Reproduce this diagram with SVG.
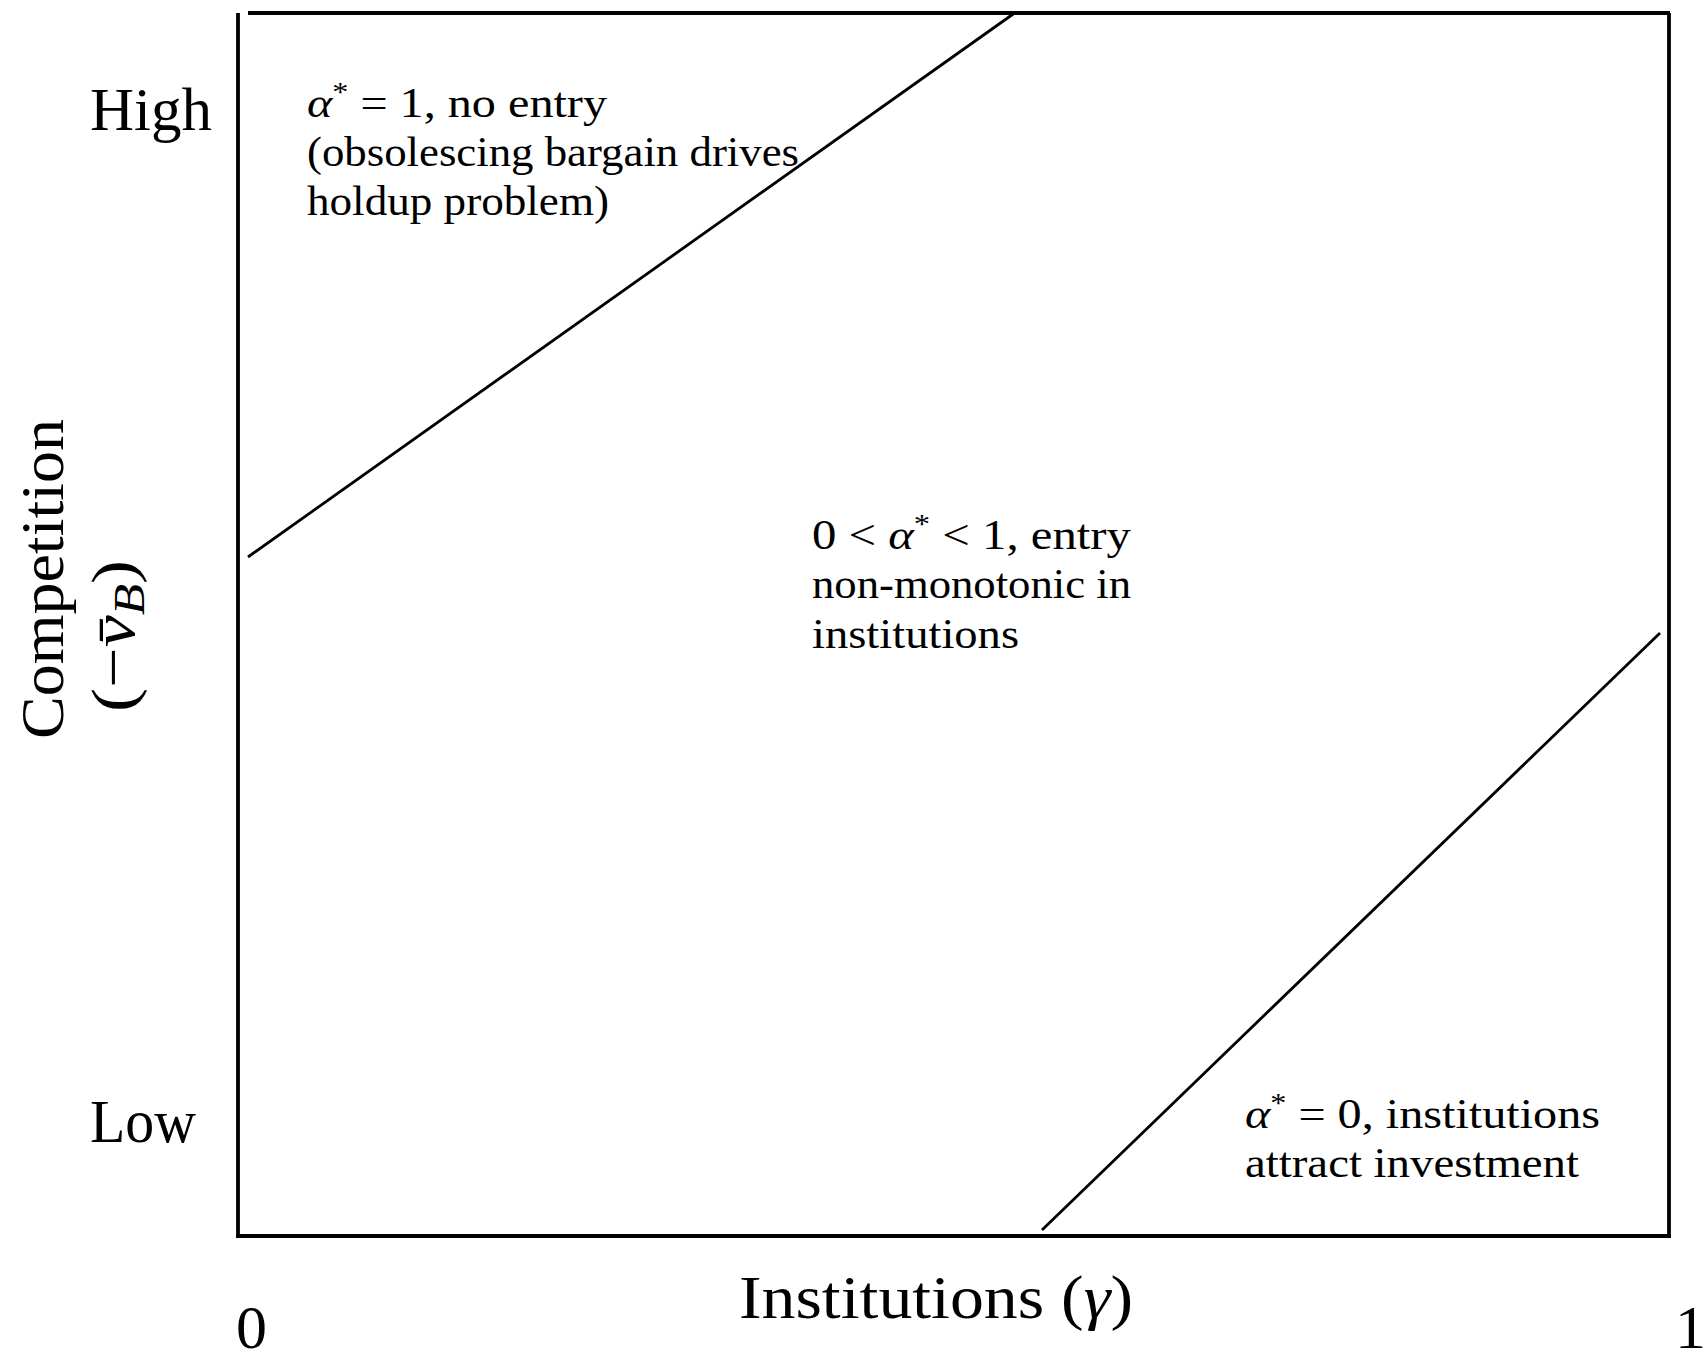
<svg xmlns="http://www.w3.org/2000/svg" width="1705" height="1359" viewBox="0 0 1705 1359">
<style>
.t{font-family:"Liberation Serif","Times New Roman",serif;fill:#000}
.ax{font-size:62px}
.rg{font-size:42px}
.it{font-style:italic}
.frame{fill:none;stroke:#000;stroke-width:3.8}
.bd{fill:none;stroke:#000;stroke-width:2.8}
</style>
<rect width="1705" height="1359" fill="#fff"/>
<g id="frame">
<line class="frame" x1="238" y1="13" x2="238" y2="1237"/>
<line class="frame" x1="248" y1="13" x2="1670" y2="13"/>
<line class="frame" x1="1669" y1="13" x2="1669" y2="1236"/>
<line class="frame" x1="236" y1="1236" x2="1671" y2="1236"/>
</g>
<g id="connectors">
<line class="bd" x1="248" y1="557" x2="1016" y2="12"/>
<line class="bd" x1="1042" y1="1230" x2="1660" y2="633"/>
</g>
<g id="axis-labels">
<text class="t ax" x="90" y="130" textLength="122" lengthAdjust="spacingAndGlyphs">High</text>
<text class="t ax" x="90" y="1142" textLength="106" lengthAdjust="spacingAndGlyphs">Low</text>
<text class="t ax" transform="translate(63,739) rotate(-90)" x="0" y="0" textLength="320" lengthAdjust="spacingAndGlyphs">Competition</text>
<text class="t ax" transform="translate(134,712) rotate(-90)" x="0" y="0" textLength="152" lengthAdjust="spacingAndGlyphs">(−<tspan class="it">v̄</tspan><tspan class="it" font-size="44" dy="10">B</tspan><tspan dy="-10">)</tspan></text>
<text class="t ax" x="739" y="1318" textLength="394" lengthAdjust="spacingAndGlyphs">Institutions (<tspan class="it">γ</tspan>)</text>
<text class="t ax" x="236" y="1348">0</text>
<text class="t ax" x="1675" y="1348">1</text>
</g>
<g id="region-high">
<text class="t rg" x="307" y="117" textLength="300" lengthAdjust="spacingAndGlyphs"><tspan class="it">α</tspan><tspan font-size="28" dy="-16">*</tspan><tspan dy="16"> = 1, no entry</tspan></text>
<text class="t rg" x="307" y="166" textLength="492" lengthAdjust="spacingAndGlyphs">(obsolescing bargain drives</text>
<text class="t rg" x="307" y="215" textLength="302" lengthAdjust="spacingAndGlyphs">holdup problem)</text>
</g>
<g id="region-mid">
<text class="t rg" x="812" y="549" textLength="319" lengthAdjust="spacingAndGlyphs">0 &lt; <tspan class="it">α</tspan><tspan font-size="28" dy="-16">*</tspan><tspan dy="16"> &lt; 1, entry</tspan></text>
<text class="t rg" x="812" y="598" textLength="319" lengthAdjust="spacingAndGlyphs">non-monotonic in</text>
<text class="t rg" x="812" y="648" textLength="207" lengthAdjust="spacingAndGlyphs">institutions</text>
</g>
<g id="region-low">
<text class="t rg" x="1245" y="1128" textLength="355" lengthAdjust="spacingAndGlyphs"><tspan class="it">α</tspan><tspan font-size="28" dy="-16">*</tspan><tspan dy="16"> = 0, institutions</tspan></text>
<text class="t rg" x="1245" y="1177" textLength="334" lengthAdjust="spacingAndGlyphs">attract investment</text>
</g>
</svg>
